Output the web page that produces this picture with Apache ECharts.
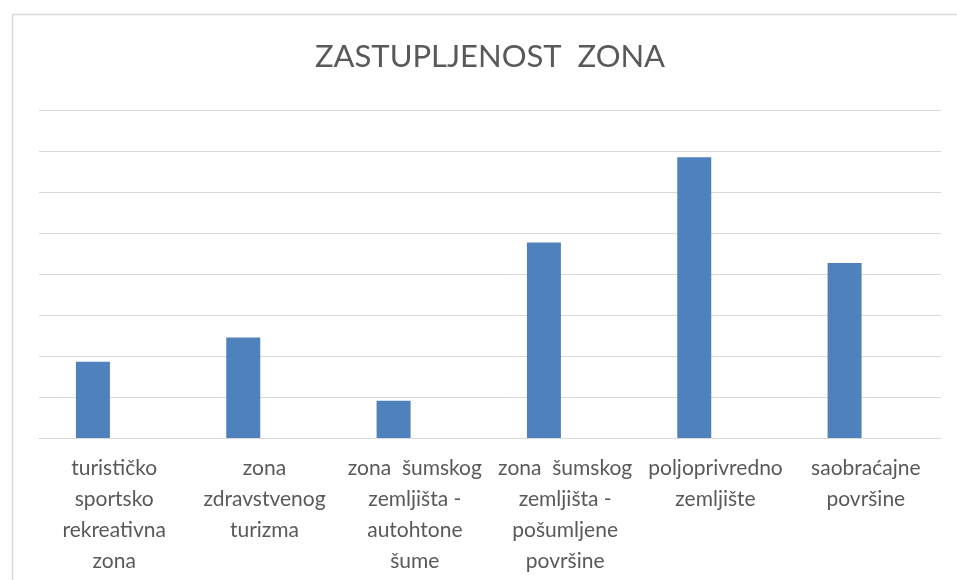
<!DOCTYPE html>
<html>
<head>
<meta charset="utf-8">
<script src="https://cdn.jsdelivr.net/npm/echarts@6/dist/echarts.min.js"></script>
<style>
  html, body { margin: 0; padding: 0; background: #fff; }
  #chart { width: 957px; height: 580px; }
</style>
</head>
<body>
<div id="chart"></div>
<script>
// kategorije (prelomljene kao u originalu)
const zone = [
  'turističko\nsportsko\nrekreativna\nzona',
  'zona\nzdravstvenog\nturizma',
  'zona  šumskog\nzemljišta -\nautohtone\nšume',
  'zona  šumskog\nzemljišta -\npošumljene\npovršine',
  'poljoprivredno\nzemljište',
  'saobraćajne\npovršine'
];
const zastupljenost = [1.86, 2.45, 0.91, 4.77, 6.85, 4.27];
// prazna druga serija (u originalu postoji prazan stupac pored)
const prazno = [];
const titleText = 'ZASTUPLJENOST  ZONA';

const chart = echarts.init(document.getElementById('chart'));
chart.setOption({
  animation: false,
  textStyle: { fontFamily: 'Lato, "Open Sans", sans-serif' },
  graphic: [
    {
      type: 'rect',
      left: 10, top: 12,
      shape: { width: 1000, height: 1000 },
      style: { fill: 'none', stroke: '#d9d9d9', lineWidth: 1.5 }
    },
    {
      type: 'text',
      x: 490, y: 41,
      style: {
        text: titleText,
        fontSize: 31,
        fontFamily: 'Lato, sans-serif',
        fill: '#595959',
        textAlign: 'center'
      }
    }
  ],
  grid: { left: 39, right: 16, top: 110, bottom: 142 },
  xAxis: {
    type: 'category',
    data: zone,
    axisLine: { lineStyle: { color: '#d9d9d9', width: 1 } },
    axisTick: { show: false },
    axisLabel: {
      interval: 0,
      color: '#595959',
      fontSize: 21,
      lineHeight: 31,
      margin: 15
    }
  },
  yAxis: {
    type: 'value',
    min: 0, max: 8, interval: 1,
    axisLabel: { show: false },
    axisLine: { show: false },
    axisTick: { show: false },
    splitLine: { lineStyle: { color: '#d9d9d9', width: 1 } }
  },
  series: [
    {
      type: 'bar',
      data: zastupljenost,
      barWidth: 34,
      barGap: '25%',
      itemStyle: { color: '#4f81bd' }
    },
    {
      type: 'bar',
      data: prazno,
      barWidth: 34
    }
  ]
});
</script>
</body>
</html>
